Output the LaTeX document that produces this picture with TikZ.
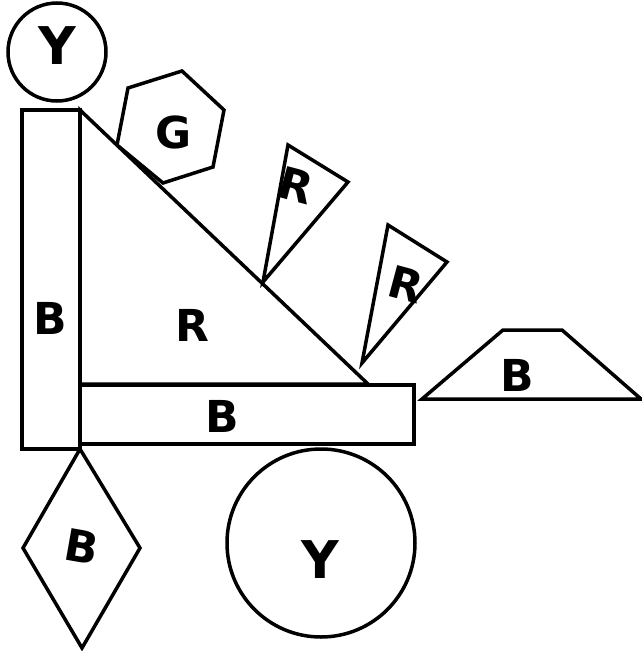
\documentclass[tikz,border=0pt]{standalone}
\usepackage{fontspec}
\setmainfont{DejaVu Sans}
\begin{document}
\begin{tikzpicture}[x=1pt, y=-1pt, line width=3.5pt, line join=miter,
		every node/.style={font=\fontsize{44}{44}\selectfont\bfseries}]
		\useasboundingbox (0,0) rectangle (642,651);
		
		% Kopf oben
		\draw (57,52) circle (49);
		\node[font=\fontsize{52}{52}\selectfont\bfseries] (ytop) at (57,46) {Y};
		
		% Hohe Saeule
		\draw (22,110) rectangle (80,449);
		\node (bpost) at (50,318) {B};
		
		% Grosses Dreieck
		\draw (80,110) -- (368,384) -- (80,384) -- cycle;
		\node (rbig) at (192,325) {R};
		
		% Sechseck
		\draw (128,88) -- (182,71) -- (224,110) -- (213,167) -- (163,183) -- (117,145) -- cycle;
		\node (ghex) at (174,132) {G};
		
		% Kleine Dreiecke
		\draw (288,145) -- (348,182) -- (263,282) -- cycle;
		\node[rotate=-15] (rone) at (296,185) {R};
		\draw (388,225) -- (447,262) -- (362,363) -- cycle;
		\node[rotate=-15] (rtwo) at (406,284) {R};
		
		% Balken unten
		\draw (80,385) rectangle (414,444);
		\node (bbar) at (222,416) {B};
		
		% Trapez
		\draw (422,399) -- (503,330) -- (562,330) -- (641,399) -- cycle;
		\node (btrap) at (517,375) {B};
		
		% Raute
		\draw (80,449) -- (140,548) -- (82,648) -- (23,548) -- cycle;
		\node[rotate=-10] (bdia) at (82,547) {B};
		
		% Kreis unten
		\draw (321,543) circle (94);
		\node[font=\fontsize{52}{52}\selectfont\bfseries] (ybot) at (320,560) {Y};
		
	\end{tikzpicture}
\end{document}
